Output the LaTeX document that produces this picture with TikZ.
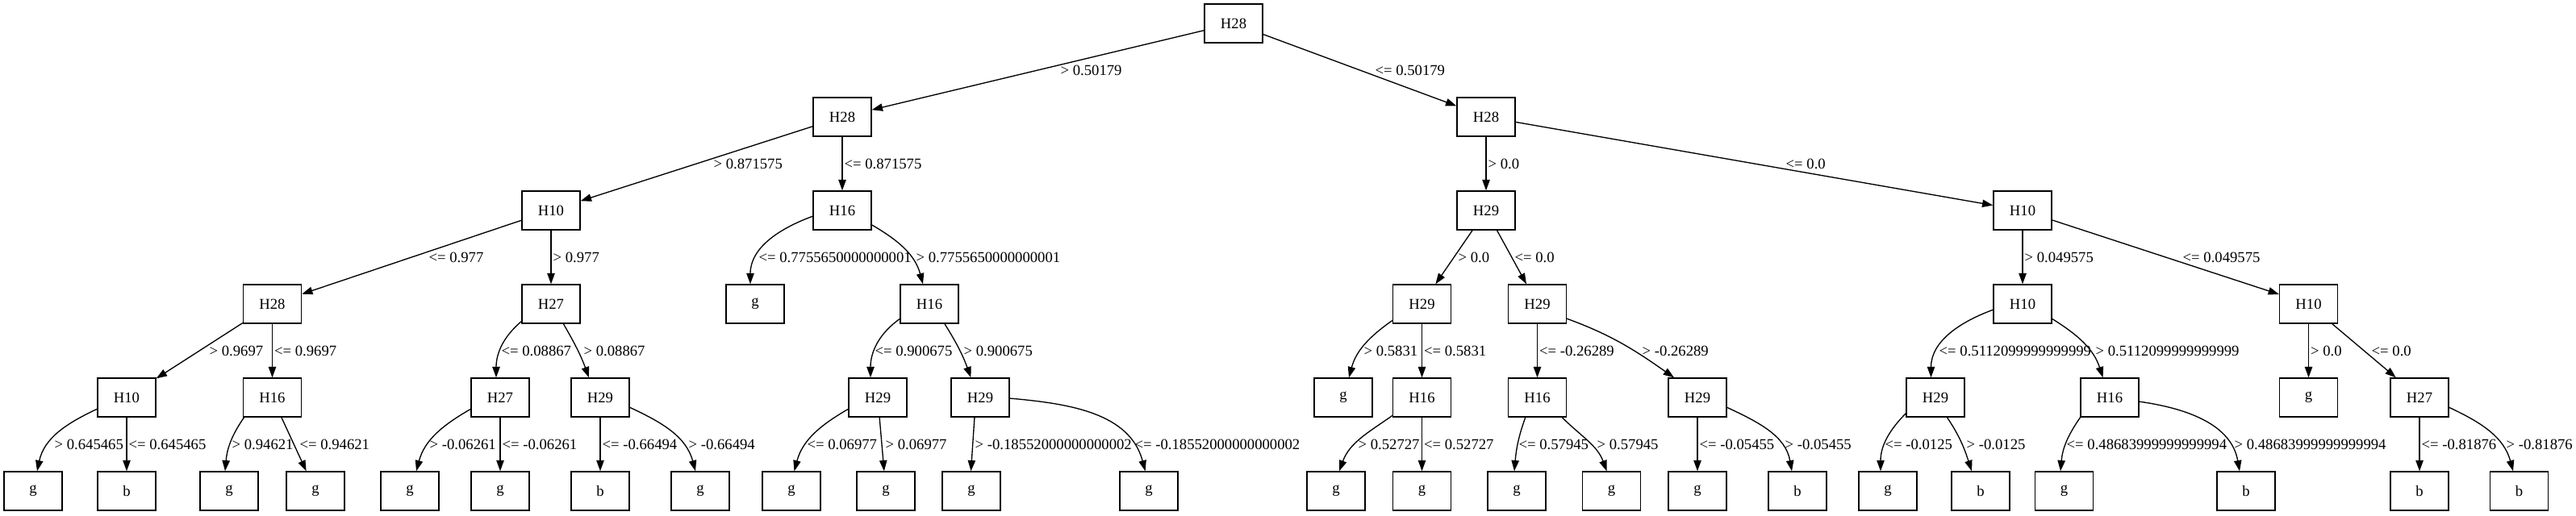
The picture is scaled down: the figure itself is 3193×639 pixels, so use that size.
\documentclass[tikz,border=0pt]{standalone}
\usepackage{fontspec}
\setmainfont{Liberation Serif}
\usetikzlibrary{arrows.meta,calc}
\begin{document}
\begin{tikzpicture}[x=0.75pt,y=0.75pt,
  tbox/.style={draw, line width=1pt, rectangle, minimum width=54pt, minimum height=36pt, inner sep=0pt, font=\fontsize{14}{16}\selectfont},
  edge/.style={line width=1pt, -{Triangle[length=10pt,width=7pt]}},
  lbl/.style={anchor=west, inner sep=0pt, font=\fontsize{14}{16}\selectfont}]
\path[fill=white,use as bounding box] (0,0) rectangle (3193,639);
% level 0
\node[tbox] (n0) at (1529,610) {H28};
% level 1
\node[tbox] (n1) at (1044,494) {H28};
\node[tbox] (n2) at (1842,494) {H28};
% level 2
\node[tbox] (n3) at (683,378) {H10};
\node[tbox] (n4) at (1044,378) {H16};
\node[tbox] (n5) at (1842,378) {H29};
\node[tbox] (n6) at (2507,378) {H10};
% level 3
\node[tbox] (n7) at (337.5,262) {H28};
\node[tbox] (n8) at (683,262) {H27};
\node[tbox] (n9) at (936,262) {g};
\node[tbox] (n10) at (1152,262) {H16};
\node[tbox] (n11) at (1762.5,262) {H29};
\node[tbox] (n12) at (1905.5,262) {H29};
\node[tbox] (n13) at (2507,262) {H10};
\node[tbox] (n14) at (2861.5,262) {H10};
% level 4
\node[tbox] (n15) at (157,146) {H10};
\node[tbox] (n16) at (337.5,146) {H16};
\node[tbox] (n17) at (620,146) {H27};
\node[tbox] (n18) at (744,146) {H29};
\node[tbox] (n19) at (1088,146) {H29};
\node[tbox] (n20) at (1215,146) {H29};
\node[tbox] (n21) at (1665,146) {g};
\node[tbox] (n22) at (1762.5,146) {H16};
\node[tbox] (n23) at (1905.5,146) {H16};
\node[tbox] (n24) at (2104,146) {H29};
\node[tbox] (n25) at (2399,146) {H29};
\node[tbox] (n26) at (2615,146) {H16};
\node[tbox] (n27) at (2861.5,146) {g};
\node[tbox] (n28) at (2999,146) {H27};
% level 5
\node[tbox] (l1) at (41,30) {g};
\node[tbox] (l2) at (157,30) {b};
\node[tbox] (l3) at (284,30) {g};
\node[tbox] (l4) at (391,30) {g};
\node[tbox] (l5) at (508,30) {g};
\node[tbox] (l6) at (620,30) {g};
\node[tbox] (l7) at (744,30) {b};
\node[tbox] (l8) at (868,30) {g};
\node[tbox] (l9) at (981,30) {g};
\node[tbox] (l10) at (1098,30) {g};
\node[tbox] (l11) at (1204,30) {g};
\node[tbox] (l12) at (1424,30) {g};
\node[tbox] (l13) at (1656,30) {g};
\node[tbox] (l14) at (1762.5,30) {g};
\node[tbox] (l15) at (1880,30) {g};
\node[tbox] (l16) at (1997.5,30) {g};
\node[tbox] (l17) at (2104,30) {g};
\node[tbox] (l18) at (2228,30) {b};
\node[tbox] (l19) at (2340,30) {g};
\node[tbox] (l20) at (2455,30) {b};
\node[tbox] (l21) at (2558.5,30) {g};
\node[tbox] (l22) at (2784,30) {b};
\node[tbox] (l23) at (2999,30) {b};
\node[tbox] (l24) at (3122.5,30) {b};

% straight center-line edges
\draw[edge] (n0) -- (n1) node[lbl] at (1314,552) {> 0.50179};
\draw[edge] (n0) -- (n2) node[lbl] at (1704,552) {<= 0.50179};
\draw[edge] (n1) -- (n3) node[lbl] at (884,436) {> 0.871575};
\draw[edge] (n2) -- (n6) node[lbl] at (2213,436) {<= 0.0};
\draw[edge] (n3) -- (n7) node[lbl] at (531,320) {<= 0.977};
\draw[edge] (n5) -- (n11) node[lbl] at (1807,320) {> 0.0};
\draw[edge] (n5) -- (n12) node[lbl] at (1877,320) {<= 0.0};
\draw[edge] (n6) -- (n14) node[lbl] at (2705,320) {<= 0.049575};
\draw[edge] (n7) -- (n15) node[lbl] at (259,204) {> 0.9697};
\draw[edge] (n14) -- (n28) node[lbl] at (2939,204) {<= 0.0};
\draw[edge] (n16) -- (l4) node[lbl] at (371,88) {<= 0.94621};
\draw[edge] (n19) -- (l10) node[lbl] at (1097,88) {> 0.06977};
\draw[edge] ($(n20)+(-7,-24)$) -- ($(l11.north)+(-0.5,0)$) node[lbl] at (1208,88) {> -0.18552000000000002};

% vertical edges
\draw[edge] (n1) -- (n4) node[lbl] at (1046,436) {<= 0.871575};
\draw[edge] (n2) -- (n5) node[lbl] at (1844,436) {> 0.0};
\draw[edge] (n3) -- (n8) node[lbl] at (685,320) {> 0.977};
\draw[edge] (n6) -- (n13) node[lbl] at (2509,320) {> 0.049575};
\draw[edge] (n7) -- (n16) node[lbl] at (339.5,204) {<= 0.9697};
\draw[edge] (n11) -- (n22) node[lbl] at (1764.5,204) {<= 0.5831};
\draw[edge] (n12) -- (n23) node[lbl] at (1907.5,204) {<= -0.26289};
\draw[edge] (n14) -- (n27) node[lbl] at (2863.5,204) {> 0.0};
\draw[edge] (n15) -- (l2) node[lbl] at (159,88) {<= 0.645465};
\draw[edge] (n17) -- (l6) node[lbl] at (622,88) {<= -0.06261};
\draw[edge] (n18) -- (l7) node[lbl] at (746,88) {<= -0.66494};
\draw[edge] (n22) -- (l14) node[lbl] at (1764.5,88) {<= 0.52727};
\draw[edge] (n24) -- (l17) node[lbl] at (2106,88) {<= -0.05455};
\draw[edge] (n28) -- (l23) node[lbl] at (3001,88) {<= -0.81876};

% curved edges
\draw[edge] ($(n4)+(-36,-7)$) to[out=200,in=90] ($(n9.north)+(-6,0)$) node[lbl] at (940,320) {<= 0.7755650000000001};
\draw[edge] ($(n4)+(35,-17)$) to[out=-30,in=105] ($(n10.north)+(-8,0)$) node[lbl] at (1135,320) {> 0.7755650000000001};
\draw[edge] ($(n8)+(-36,-21)$) to[out=220,in=90] ($(n17.north)+(-5,0)$) node[lbl] at (621,204) {<= 0.08867};
\draw[edge] ($(n8)+(15,-24)$) to[out=-60,in=110] ($(n18.north)+(-14,0)$) node[lbl] at (723,204) {> 0.08867};
\draw[edge] ($(n10)+(-36,-18)$) to[out=215,in=90] ($(n19.north)+(-9,0)$) node[lbl] at (1084,204) {<= 0.900675};
\draw[edge] ($(n10)+(18.5,-24)$) to[out=-58,in=110] ($(n20.north)+(-11.5,0)$) node[lbl] at (1194,204) {> 0.900675};
\draw[edge] ($(n11)+(-36,-20)$) to[out=215,in=75] ($(n21.north)+(7,0)$) node[lbl] at (1690,204) {> 0.5831};
\draw[edge] ($(n12)+(36,-18)$) to[out=-20,in=145] ($(n24.north)+(-29,0)$) node[lbl] at (2035,204) {> -0.26289};
\draw[edge] ($(n13)+(-36,-7)$) to[out=200,in=90] ($(n25.north)+(-5.5,0)$) node[lbl] at (2403,204) {<= 0.5112099999999999};
\draw[edge] ($(n13)+(36,-18)$) to[out=-32,in=108] ($(n26.north)+(-8.4,0)$) node[lbl] at (2597,204) {> 0.5112099999999999};
\draw[edge] ($(n15)+(-36,-14)$) to[out=205,in=78] ($(l1.north)+(5,0)$) node[lbl] at (67,88) {> 0.645465};
\draw[edge] ($(n16)+(-34.5,-24)$) to[out=235,in=85] ($(l3.north)+(-5,0)$) node[lbl] at (287,88) {> 0.94621};
\draw[edge] ($(n17)+(-36,-14)$) to[out=210,in=75] ($(l5.north)+(8,0)$) node[lbl] at (532,88) {> -0.06261};
\draw[edge] ($(n18)+(36,-12)$) to[out=-25,in=105] ($(l8.north)+(-6,0)$) node[lbl] at (853,88) {> -0.66494};
\draw[edge] ($(n19)+(-36,-14)$) to[out=210,in=75] ($(l9.north)+(3.5,0)$) node[lbl] at (1000,88) {<= 0.06977};
\draw[edge] ($(n20)+(36,-1)$) to[out=-5,in=105] ($(l12.north)+(-4.4,0)$) node[lbl] at (1406,88) {<= -0.18552000000000002};
\draw[edge] ($(n22)+(-36,-22)$) to[out=215,in=70] ($(l13.north)+(4,0)$) node[lbl] at (1683,88) {> 0.52727};
\draw[edge] ($(n23)+(-14.5,-24)$) to[out=250,in=85] ($(l15.north)+(-3,0)$) node[lbl] at (1882,88) {<= 0.57945};
\draw[edge] ($(n23)+(30,-24)$) to[out=-45,in=110] ($(l16.north)+(-6,0)$) node[lbl] at (1979,88) {> 0.57945};
\draw[edge] ($(n24)+(36,-12)$) to[out=-25,in=100] ($(l18.north)+(-7,0)$) node[lbl] at (2212,88) {> -0.05455};
\draw[edge] ($(n25)+(-36,-19)$) to[out=225,in=90] ($(l19.north)+(-9,0)$) node[lbl] at (2336,88) {<= -0.0125};
\draw[edge] ($(n25)+(14,-24)$) to[out=-56,in=108] ($(l20.north)+(-11,0)$) node[lbl] at (2437,88) {> -0.0125};
\draw[edge] ($(n26)+(-36,-24)$) to[out=235,in=85] ($(l21.north)+(-4.5,0)$) node[lbl] at (2561,88) {<= 0.48683999999999994};
\draw[edge] ($(n26)+(36,-5)$) to[out=-8,in=100] ($(l22.north)+(-8,0)$) node[lbl] at (2769,88) {> 0.48683999999999994};
\draw[edge] ($(n28)+(36,-12)$) to[out=-25,in=105] ($(l24.north)+(-7.5,0)$) node[lbl] at (3106,88) {> -0.81876};
\end{tikzpicture}
\end{document}
